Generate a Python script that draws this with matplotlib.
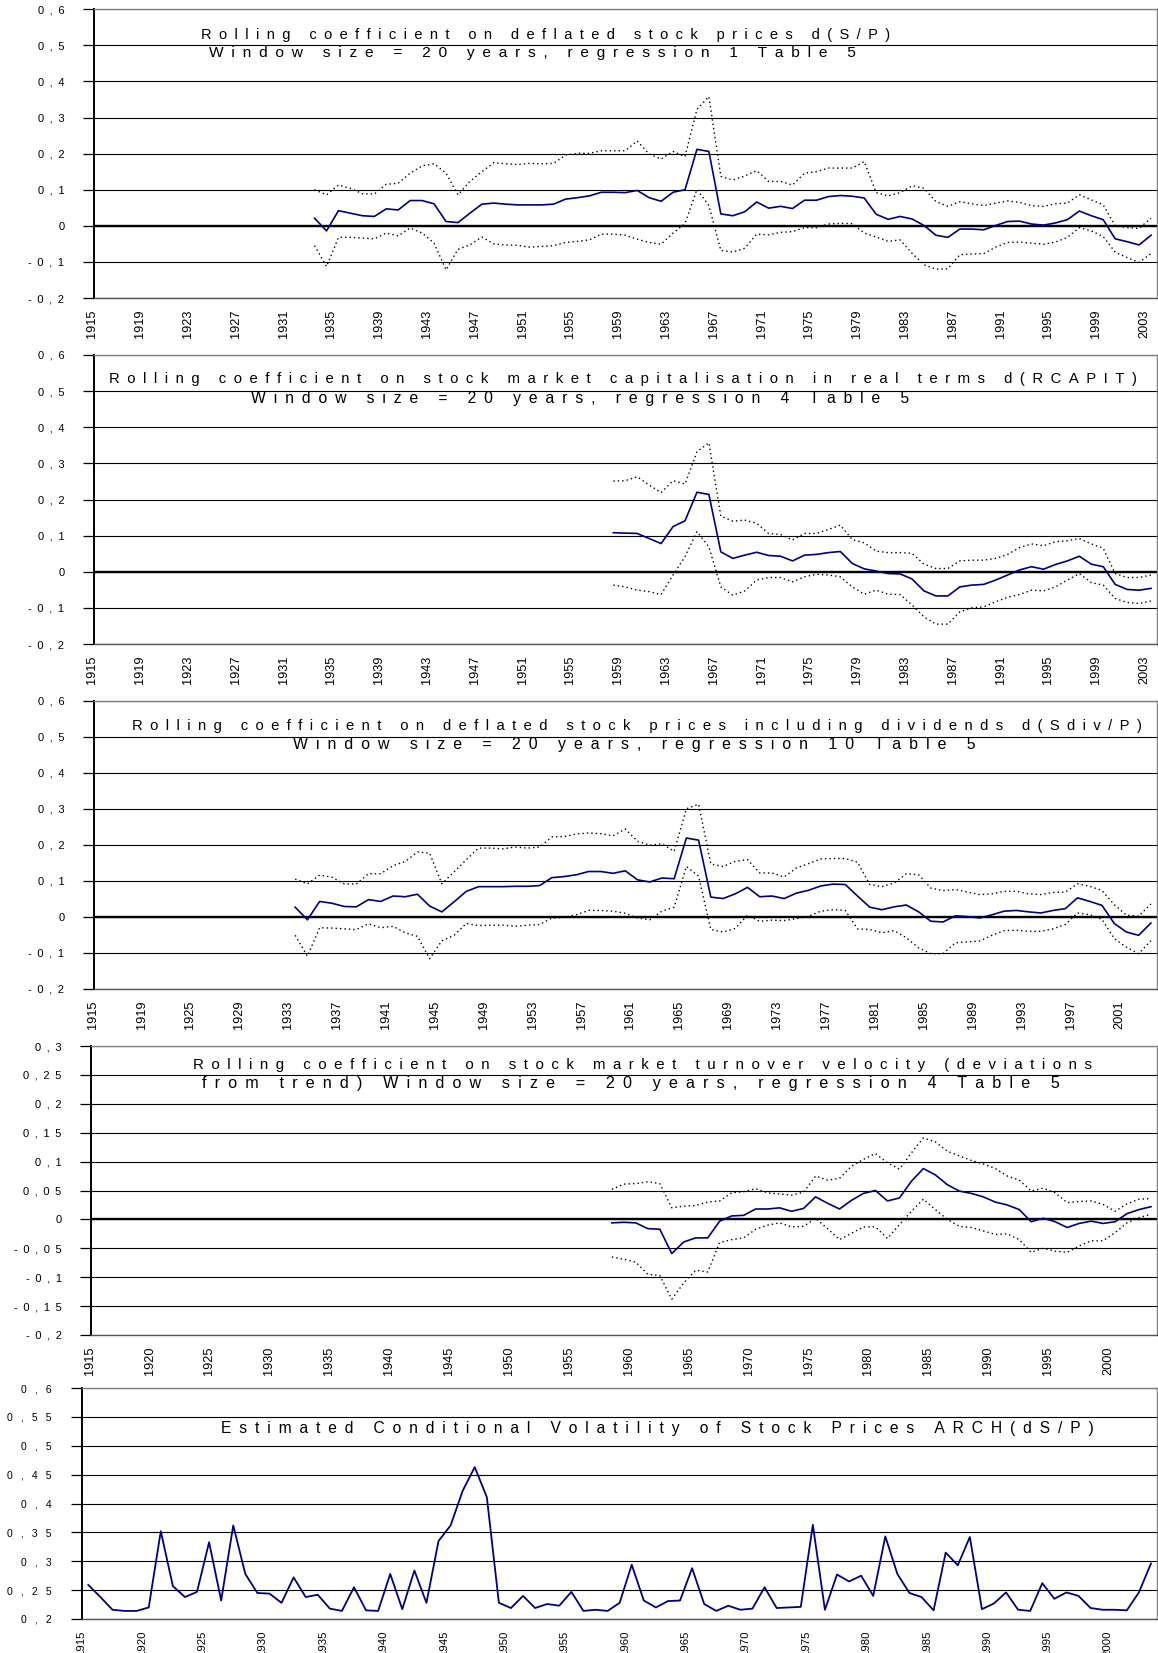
import numpy as np
import matplotlib
matplotlib.use('Agg')
import matplotlib.pyplot as plt
from matplotlib.transforms import ScaledTranslation

plt.rcParams['font.family'] = ['Liberation Sans', 'DejaVu Sans']

# categories (years on the category axes)
cats = list(range(1915, 2004))
cats_p3 = list(range(1915, 1921)) + list(range(1923, 2004))

years_a = list(range(1933, 2004))   # panels 1 and 3
years_b = list(range(1958, 2004))   # panels 2 and 4
years_c = list(range(1915, 2004))   # panel 5

p1_mid = [0.021, -0.014, 0.042, 0.035, 0.028, 0.026, 0.047, 0.044, 0.070, 0.070,
          0.061, 0.012, 0.009, 0.035, 0.060, 0.063, 0.060, 0.058, 0.058, 0.058,
          0.060, 0.074, 0.078, 0.083, 0.093, 0.093, 0.092, 0.098, 0.078, 0.068,
          0.093, 0.100, 0.212, 0.206, 0.033, 0.028, 0.039, 0.066, 0.049, 0.054,
          0.048, 0.071, 0.071, 0.081, 0.084, 0.082, 0.077, 0.032, 0.018, 0.026,
          0.019, 0.001, -0.026, -0.032, -0.009, -0.009, -0.011, 0.001, 0.012, 0.013,
          0.005, 0.002, 0.008, 0.017, 0.041, 0.028, 0.017, -0.036, -0.044, -0.053,
          -0.026]
p1_hi = [0.100, 0.086, 0.113, 0.104, 0.089, 0.088, 0.115, 0.118, 0.146, 0.166,
         0.172, 0.146, 0.086, 0.123, 0.150, 0.175, 0.172, 0.170, 0.173, 0.172,
         0.173, 0.196, 0.201, 0.201, 0.208, 0.208, 0.208, 0.235, 0.199, 0.185,
         0.206, 0.192, 0.323, 0.358, 0.137, 0.127, 0.138, 0.153, 0.123, 0.123,
         0.113, 0.146, 0.150, 0.160, 0.160, 0.160, 0.178, 0.092, 0.083, 0.092,
         0.111, 0.104, 0.067, 0.054, 0.067, 0.061, 0.056, 0.063, 0.069, 0.065,
         0.056, 0.054, 0.061, 0.063, 0.086, 0.072, 0.058, 0.000, -0.005, -0.007,
         0.021]
p1_lo = [-0.055, -0.113, -0.032, -0.032, -0.034, -0.036, -0.020, -0.028, -0.006, -0.020,
         -0.048, -0.122, -0.065, -0.053, -0.031, -0.050, -0.053, -0.054, -0.059, -0.057,
         -0.055, -0.046, -0.043, -0.039, -0.023, -0.023, -0.026, -0.037, -0.046, -0.051,
         -0.020, 0.006, 0.101, 0.056, -0.068, -0.073, -0.062, -0.023, -0.025, -0.018,
         -0.016, -0.005, -0.005, 0.005, 0.007, 0.006, -0.020, -0.031, -0.043, -0.039,
         -0.076, -0.108, -0.120, -0.119, -0.080, -0.078, -0.077, -0.059, -0.046, -0.045,
         -0.048, -0.051, -0.045, -0.032, -0.005, -0.014, -0.030, -0.073, -0.088, -0.101,
         -0.077]

p2_mid = [0.108, 0.107, 0.106, 0.092, 0.078, 0.125, 0.141, 0.220, 0.214, 0.055,
          0.037, 0.046, 0.054, 0.045, 0.043, 0.030, 0.046, 0.048, 0.053, 0.056,
          0.023, 0.008, 0.002, -0.005, -0.006, -0.020, -0.053, -0.067, -0.067, -0.042,
          -0.037, -0.035, -0.023, -0.009, 0.005, 0.014, 0.007, 0.020, 0.030, 0.043,
          0.021, 0.014, -0.035, -0.049, -0.051, -0.046]
p2_hi = [0.251, 0.252, 0.263, 0.240, 0.219, 0.252, 0.243, 0.332, 0.357, 0.154,
         0.140, 0.143, 0.134, 0.106, 0.103, 0.088, 0.106, 0.106, 0.117, 0.129,
         0.089, 0.080, 0.057, 0.053, 0.053, 0.051, 0.021, 0.009, 0.009, 0.030,
         0.032, 0.032, 0.037, 0.048, 0.067, 0.077, 0.072, 0.083, 0.086, 0.092,
         0.077, 0.065, -0.005, -0.016, -0.016, -0.009]
p2_lo = [-0.037, -0.042, -0.051, -0.055, -0.063, -0.009, 0.042, 0.111, 0.069, -0.042,
         -0.065, -0.053, -0.023, -0.016, -0.016, -0.028, -0.014, -0.007, -0.009, -0.014,
         -0.042, -0.062, -0.051, -0.062, -0.063, -0.092, -0.125, -0.145, -0.145, -0.111,
         -0.100, -0.097, -0.083, -0.071, -0.063, -0.051, -0.053, -0.042, -0.023, -0.005,
         -0.030, -0.037, -0.074, -0.085, -0.088, -0.081]

p3_mid = [0.027, -0.008, 0.043, 0.038, 0.029, 0.028, 0.048, 0.043, 0.058, 0.056,
          0.063, 0.030, 0.014, 0.042, 0.071, 0.084, 0.084, 0.084, 0.085, 0.085,
          0.087, 0.109, 0.112, 0.117, 0.126, 0.126, 0.121, 0.128, 0.103, 0.097,
          0.108, 0.106, 0.219, 0.213, 0.055, 0.051, 0.064, 0.082, 0.056, 0.058,
          0.051, 0.066, 0.074, 0.086, 0.091, 0.090, 0.058, 0.027, 0.020, 0.028,
          0.033, 0.014, -0.012, -0.014, 0.003, 0.001, -0.003, 0.006, 0.016, 0.018,
          0.014, 0.011, 0.018, 0.023, 0.053, 0.043, 0.032, -0.018, -0.042, -0.051,
          -0.017]
p3_hi = [0.105, 0.092, 0.116, 0.110, 0.092, 0.091, 0.120, 0.120, 0.142, 0.154,
         0.180, 0.177, 0.092, 0.125, 0.159, 0.191, 0.191, 0.189, 0.194, 0.191,
         0.194, 0.222, 0.223, 0.230, 0.233, 0.231, 0.225, 0.244, 0.210, 0.199,
         0.203, 0.182, 0.300, 0.313, 0.147, 0.140, 0.154, 0.159, 0.122, 0.122,
         0.111, 0.136, 0.148, 0.161, 0.162, 0.162, 0.152, 0.090, 0.084, 0.094,
         0.120, 0.117, 0.080, 0.073, 0.076, 0.069, 0.062, 0.064, 0.071, 0.071,
         0.064, 0.062, 0.068, 0.069, 0.092, 0.085, 0.073, 0.034, 0.005, 0.002,
         0.036]
p3_lo = [-0.051, -0.109, -0.030, -0.031, -0.033, -0.035, -0.019, -0.030, -0.026, -0.044,
         -0.054, -0.116, -0.066, -0.051, -0.018, -0.024, -0.023, -0.023, -0.026, -0.023,
         -0.021, -0.003, -0.001, 0.006, 0.018, 0.018, 0.016, 0.010, -0.003, -0.008,
         0.016, 0.027, 0.140, 0.113, -0.035, -0.042, -0.032, 0.005, -0.012, -0.009,
         -0.010, -0.005, 0.002, 0.016, 0.020, 0.018, -0.033, -0.035, -0.044, -0.038,
         -0.058, -0.086, -0.102, -0.102, -0.072, -0.069, -0.067, -0.051, -0.038, -0.037,
         -0.040, -0.040, -0.033, -0.021, 0.011, 0.006, -0.007, -0.060, -0.084, -0.102,
         -0.066]

p4_mid = [-0.006, -0.005, -0.006, -0.016, -0.017, -0.059, -0.039, -0.032, -0.032, -0.003,
          0.006, 0.007, 0.018, 0.018, 0.020, 0.014, 0.019, 0.039, 0.028, 0.018,
          0.033, 0.045, 0.050, 0.032, 0.037, 0.066, 0.088, 0.077, 0.060, 0.049,
          0.045, 0.039, 0.030, 0.025, 0.017, -0.004, 0.002, -0.004, -0.014, -0.007,
          -0.003, -0.007, -0.004, 0.010, 0.017, 0.022]
p4_hi = [0.052, 0.061, 0.062, 0.065, 0.062, 0.020, 0.023, 0.024, 0.030, 0.032,
         0.046, 0.048, 0.053, 0.046, 0.044, 0.042, 0.047, 0.075, 0.068, 0.071,
         0.092, 0.104, 0.114, 0.098, 0.087, 0.115, 0.141, 0.134, 0.118, 0.110,
         0.102, 0.096, 0.088, 0.075, 0.068, 0.049, 0.054, 0.046, 0.029, 0.031,
         0.032, 0.026, 0.014, 0.027, 0.035, 0.036]
p4_lo = [-0.065, -0.069, -0.074, -0.095, -0.097, -0.138, -0.110, -0.088, -0.091, -0.040,
         -0.035, -0.032, -0.017, -0.010, -0.006, -0.013, -0.012, 0.002, -0.016, -0.035,
         -0.024, -0.013, -0.013, -0.033, -0.009, 0.014, 0.035, 0.017, 0.000, -0.012,
         -0.014, -0.020, -0.026, -0.025, -0.035, -0.057, -0.050, -0.055, -0.057, -0.046,
         -0.037, -0.037, -0.023, -0.006, 0.003, 0.009]

p5_vol = [0.259, 0.238, 0.216, 0.214, 0.214, 0.220, 0.352, 0.257, 0.238, 0.247,
          0.333, 0.232, 0.362, 0.278, 0.245, 0.244, 0.228, 0.272, 0.238, 0.242,
          0.218, 0.214, 0.255, 0.215, 0.214, 0.278, 0.217, 0.284, 0.228, 0.335,
          0.362, 0.422, 0.463, 0.411, 0.228, 0.219, 0.240, 0.219, 0.226, 0.223,
          0.247, 0.214, 0.216, 0.214, 0.228, 0.294, 0.232, 0.220, 0.231, 0.232,
          0.288, 0.226, 0.214, 0.223, 0.216, 0.218, 0.255, 0.219, 0.220, 0.221,
          0.363, 0.216, 0.277, 0.265, 0.275, 0.240, 0.343, 0.278, 0.245, 0.238,
          0.215, 0.315, 0.293, 0.342, 0.217, 0.227, 0.246, 0.216, 0.214, 0.262,
          0.235, 0.246, 0.240, 0.219, 0.216, 0.216, 0.215, 0.246, 0.296]

titles = [
    ["Rolling coefficient on deflated stock prices d(S/P)",
     "Window size = 20 years, regression 1 Table 5"],
    ["Rolling coefficient on stock market capitalisation in real terms d(RCAPIT)",
     "Window size = 20 years, regression 4 Table 5"],
    ["Rolling coefficient on deflated stock prices including dividends d(Sdiv/P)",
     "Window size = 20 years, regression 10 Table 5"],
    ["Rolling coefficient on stock market turnover velocity (deviations",
     "from trend) Window size = 20 years, regression 4 Table 5"],
    ["Estimated Conditional Volatility of Stock Prices ARCH(dS/P)"],
]

W, H = 1158, 1653
fig = plt.figure(figsize=(W / 100, H / 100), dpi=100)
renderer = fig.canvas.get_renderer()

BLUE = '#000080'


def spread(s, gap='\u2002', word='\u2002 \u2002'):
    # the letter-spaced look of the original
    return word.join(gap.join(w) for w in s.split(' '))


def make_axes(left, top, bottom, right=1157):
    return fig.add_axes([left / W, 1 - bottom / H, (right - left) / W, (bottom - top) / H])


def panel(ax, categories, ylo, yhi, step, label_every, zero=True,
          ylab_size=8, ylab_gap='\u2002', xlab_size=9.2, ypad=13):
    ax.set_xlim(-0.5, len(categories) - 0.5)
    ax.set_ylim(ylo, yhi)
    yt = np.round(np.arange(ylo, yhi + step / 2, step), 3) + 0.0
    ax.set_yticks(yt)
    ax.set_yticklabels([spread(('%g' % (v + 0.0)).replace('.', ','), gap=ylab_gap) for v in yt])
    xt = list(range(0, len(categories), label_every))
    ax.set_xticks(xt)
    ax.set_xticklabels([str(categories[i]) for i in xt])
    ax.yaxis.grid(True, color='black', lw=0.8)
    ax.set_axisbelow(True)
    if zero:
        ax.axhline(0, color='black', lw=1.7, zorder=1.5)
    ax.tick_params(axis='y', direction='out', length=8, width=0.9,
                   pad=ypad, labelsize=ylab_size, colors='black')
    ax.tick_params(axis='x', length=0, pad=8.5, labelsize=xlab_size, labelrotation=90)
    shift = ScaledTranslation(-0.07, 0, fig.dpi_scale_trans)
    for lab in ax.get_xticklabels():
        lab.set_transform(lab.get_transform() + shift)
    ax.spines['left'].set_color('black')
    ax.spines['left'].set_linewidth(1.4)
    for side in ['top', 'right']:
        ax.spines[side].set_color('#808080')
        ax.spines[side].set_linewidth(1.0)
    ax.spines['bottom'].set_color('#555555')
    ax.spines['bottom'].set_linewidth(1.0)


def bands(ax, categories, years, mid, hi, lo):
    x = [categories.index(y) for y in years]
    ax.plot(x, hi, color='black', lw=1.0, ls=(0, (1, 2.2)), zorder=3)
    ax.plot(x, lo, color='black', lw=1.0, ls=(0, (1, 2.2)), zorder=3)
    ax.plot(x, mid, color=BLUE, lw=1.2, zorder=4)


def title_line(s, x0, x1, yc, size):
    t = fig.text(x0 / W, 1 - yc / H, spread(s), fontsize=size, ha='left', va='center')
    w = t.get_window_extent(renderer).width
    t.set_fontsize(size * (x1 - x0) / w)


# panel 1
ax1 = make_axes(93.5, 9.3, 298)
panel(ax1, cats, -0.2, 0.6, 0.1, 4)
bands(ax1, cats, years_a, p1_mid, p1_hi, p1_lo)
title_line(titles[0][0], 201, 895, 35, 10.5)
title_line(titles[0][1], 209, 862, 53.5, 10.5)

# panel 2
ax2 = make_axes(93.5, 355, 644)
panel(ax2, cats, -0.2, 0.6, 0.1, 4)
bands(ax2, cats, years_b, p2_mid, p2_hi, p2_lo)
title_line(titles[1][0], 109, 1141, 379, 10.5)
title_line(titles[1][1], 251, 914, 398.5, 10.5)

# panel 3
ax3 = make_axes(93.5, 700.7, 989)
panel(ax3, cats_p3, -0.2, 0.6, 0.1, 4)
bands(ax3, cats_p3, years_a, p3_mid, p3_hi, p3_lo)
title_line(titles[2][0], 132, 1149, 726, 10.5)
title_line(titles[2][1], 293, 981, 745, 10.5)

# panel 4
ax4 = make_axes(90.7, 1046, 1335)
panel(ax4, cats, -0.2, 0.3, 0.05, 5)
bands(ax4, cats, years_b, p4_mid, p4_hi, p4_lo)
title_line(titles[3][0], 193, 1100, 1064.5, 10.5)
title_line(titles[3][1], 202, 1063, 1083.5, 10.5)

# panel 5
ax5 = make_axes(82.3, 1388, 1619)
panel(ax5, cats, 0.2, 0.6, 0.05, 5, zero=False, ylab_size=7.5,
      ylab_gap=' \u2002', xlab_size=8.2, ypad=14)
ax5.plot([cats.index(y) for y in years_c], p5_vol, color=BLUE, lw=1.3, zorder=4)
title_line(titles[4][0], 221, 1094, 1428.5, 9)

fig.savefig('out.png', dpi=100)
